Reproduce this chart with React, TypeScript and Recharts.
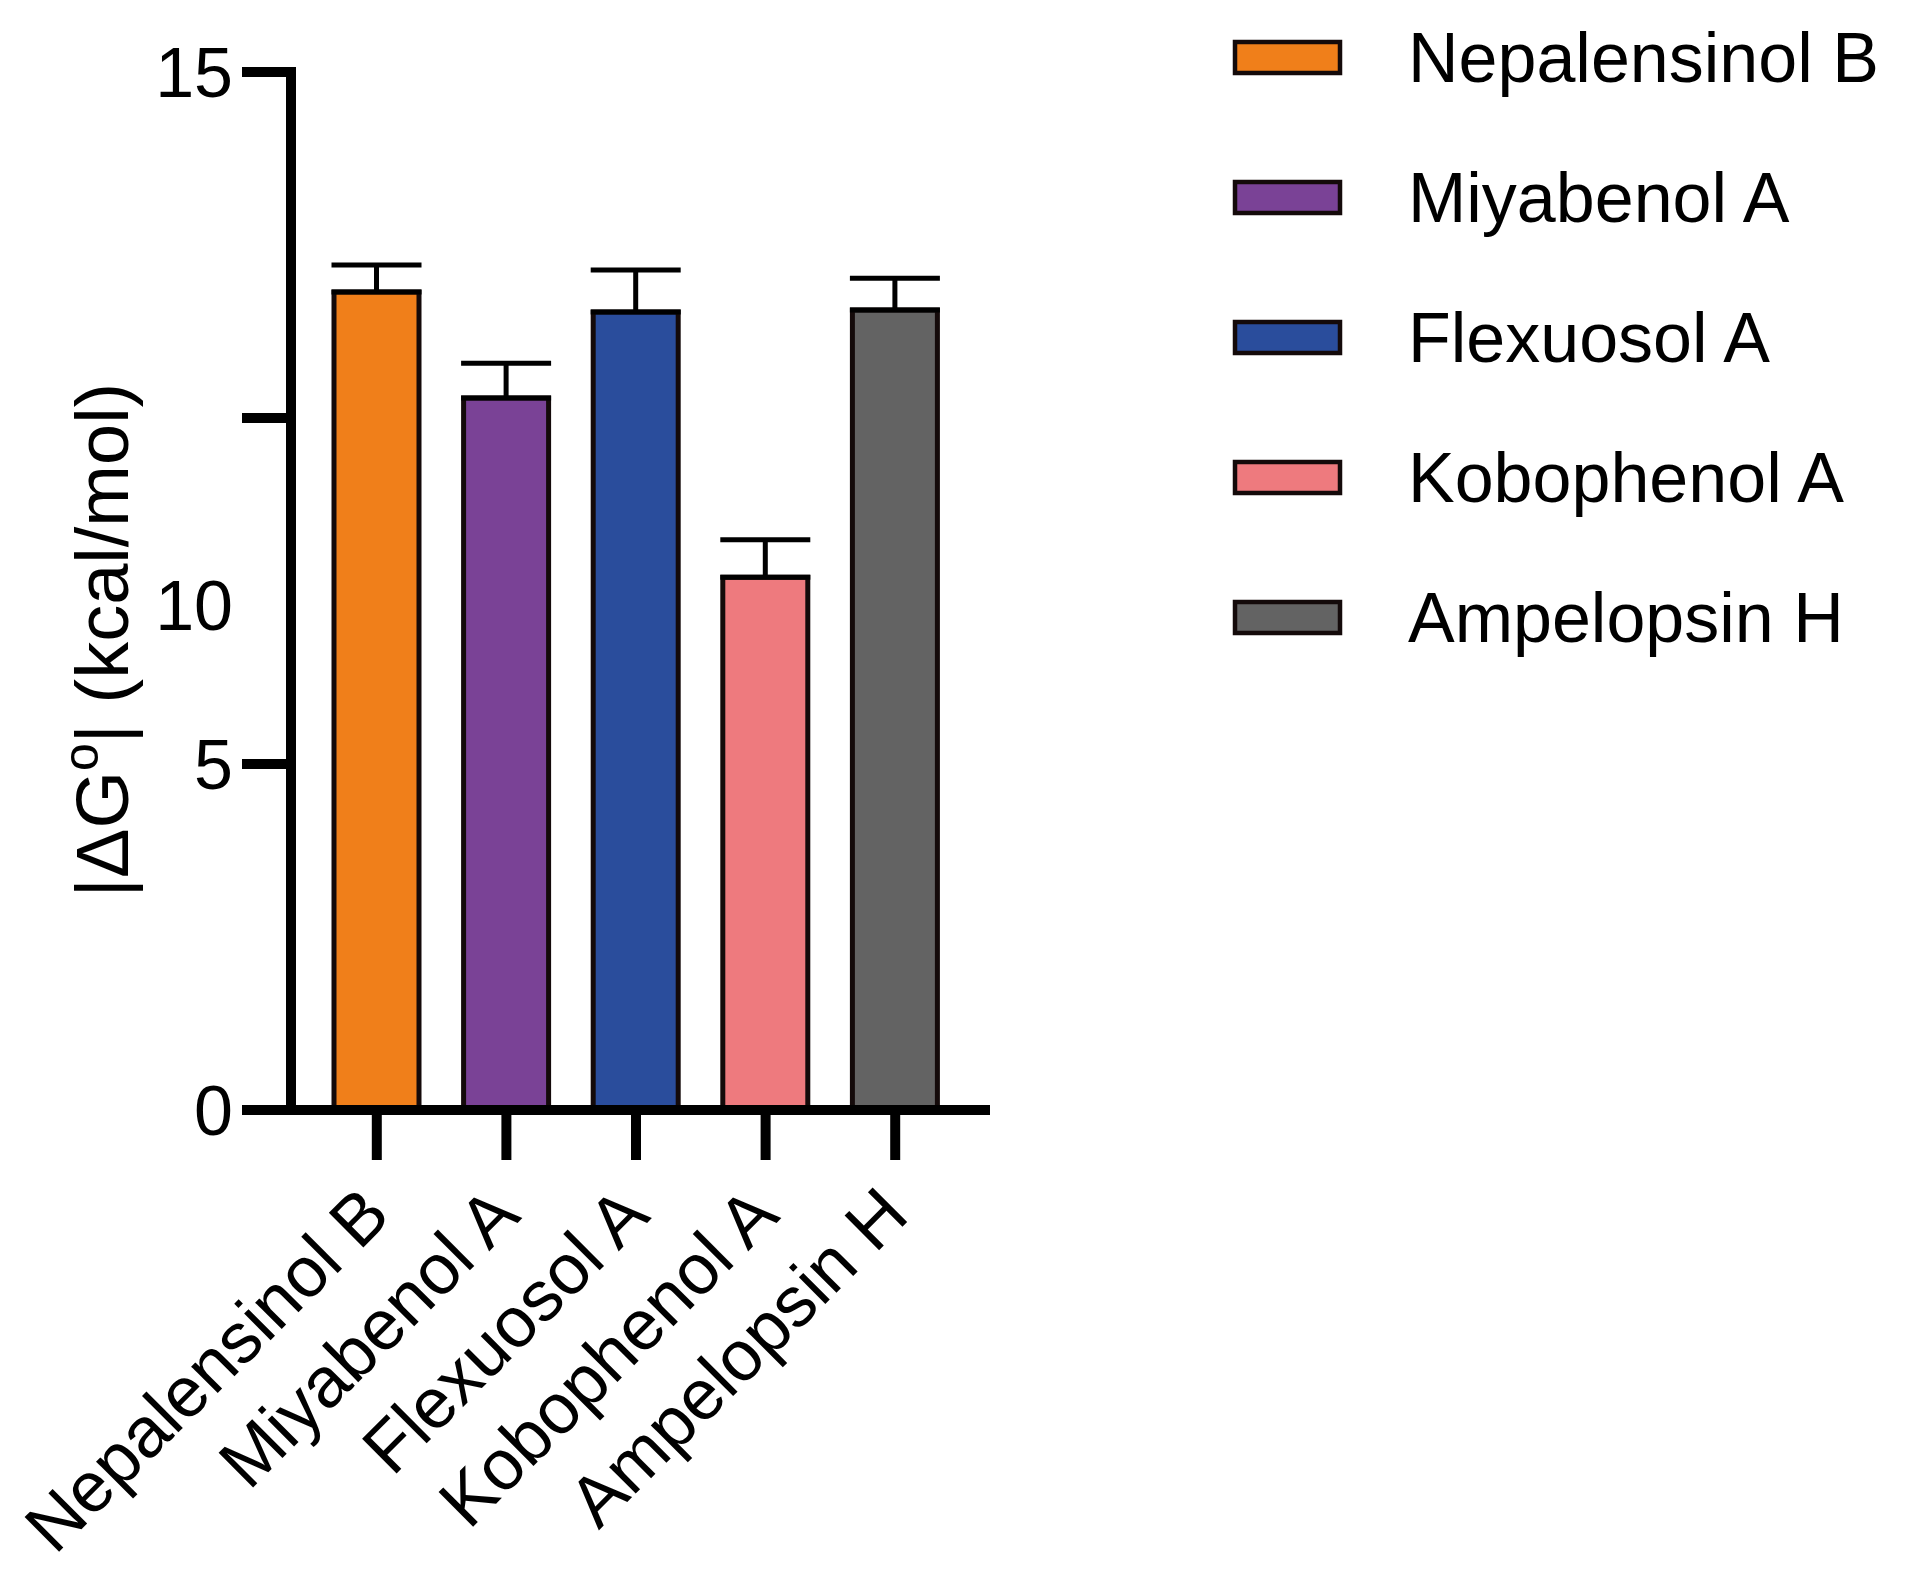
import React from 'react';
import { BarChart, Bar, XAxis, YAxis, Cell, ErrorBar, Legend, Label } from 'recharts';

const compounds = ['Nepalensinol B', 'Miyabenol A', 'Flexuosol A', 'Kobophenol A', 'Ampelopsin H'];
const deltaG = [11.82, 10.29, 11.53, 7.7, 11.56];
const errUp = [0.39, 0.5, 0.61, 0.54, 0.46];
const barColors = ['#F07F1A', '#7A4296', '#2A4D9C', '#EE7A7E', '#636363'];
const yTicks = [0, 5, 10, 15];

const FONT = '"Liberation Sans", Arial, sans-serif';
// the reference draws the "10" label below its tick
const tickLabelShift: Record<number, number> = { 10: 187 };

const data = compounds.map((name, i) => ({ name, value: deltaG[i], err: [0, errUp[i]] }));

const YTick = (props: any) => {
  const { x, y, payload } = props;
  const shift = tickLabelShift[payload.value] || 0;
  return (
    <text x={x} y={y + shift} dy="0.355em" textAnchor="end" fontSize={70} fontFamily={FONT} fill="#000">
      {payload.value}
    </text>
  );
};

const XTick = (props: any) => {
  const { x, y, payload } = props;
  return (
    <g transform={`translate(${x + 16},${y + 58})`}>
      <text x={0} y={0} transform="rotate(-45)" textAnchor="end" fontSize={71} fontFamily={FONT} fill="#000">
        {payload.value}
      </text>
    </g>
  );
};

const YLabel = (props: any) => {
  const { viewBox } = props;
  const cx = viewBox.x + 102;
  const cy = viewBox.y + viewBox.height / 2 + 49;
  return (
    <text
      x={cx}
      y={cy}
      transform={`rotate(-90, ${cx}, ${cy})`}
      textAnchor="middle"
      dy="0.355em"
      fontSize={74}
      fontFamily={FONT}
      fill="#000"
    >
      <tspan>|ΔG</tspan>
      <tspan fontSize={50} dy={-30}>o</tspan>
      <tspan dy={30}>| (kcal/mol)</tspan>
    </text>
  );
};

const LegendContent = () => (
  <svg width={680} height={640} style={{ display: 'block', overflow: 'visible' }}>
    {compounds.map((name, i) => (
      <g key={name}>
        <rect x={2} y={i * 140 + 2} width={105} height={31} fill={barColors[i]} stroke="#140a0a" strokeWidth={4.5} />
        <text x={175} y={i * 140 + 17.5} dy="0.355em" fontSize={70} fontFamily={FONT} fill="#000">
          {name}
        </text>
      </g>
    ))}
  </svg>
);

export default function App() {
  return (
    <div style={{ position: 'absolute', left: 0, top: 0, width: 1912, height: 1590, background: '#fff' }}>
      <BarChart
        width={1912}
        height={1590}
        data={data}
        margin={{ top: 72, right: 922, bottom: 0, left: 0 }}
        barCategoryGap={0}
      >
        <XAxis
          dataKey="name"
          interval={0}
          height={480}
          padding={{ left: 21, right: 30 }}
          axisLine={{ stroke: '#000', strokeWidth: 10 }}
          tickLine={{ stroke: '#000', strokeWidth: 10 }}
          tickSize={50}
          tickMargin={0}
          tick={<XTick />}
        />
        <YAxis
          width={291}
          domain={[0, 15]}
          ticks={yTicks}
          interval={0}
          allowDataOverflow
          axisLine={{ stroke: '#000', strokeWidth: 10, strokeLinecap: 'square' }}
          tickLine={{ stroke: '#000', strokeWidth: 10 }}
          tickSize={49}
          tickMargin={9}
          tick={<YTick />}
        >
          <Label content={<YLabel />} />
        </YAxis>
        <Legend
          layout="vertical"
          align="center"
          verticalAlign="middle"
          content={<LegendContent />}
          wrapperStyle={{ left: 1233, top: 40, width: 680 }}
        />
        <Bar dataKey="value" barSize={85} stroke="#140a0a" strokeWidth={5} isAnimationActive={false}>
          {data.map((d, i) => (
            <Cell key={d.name} fill={barColors[i]} />
          ))}
          <ErrorBar dataKey="err" width={45} stroke="#000" strokeWidth={5} direction="y" isAnimationActive={false} />
        </Bar>
      </BarChart>
    </div>
  );
}
